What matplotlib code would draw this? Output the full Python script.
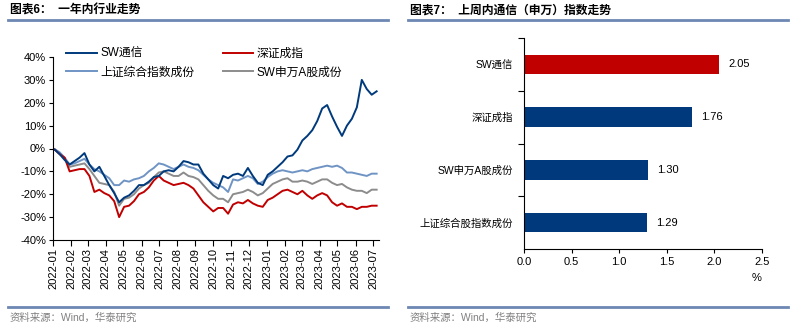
import numpy as np
import pandas as pd
import matplotlib
matplotlib.use("Agg")
import matplotlib.pyplot as plt
import matplotlib.dates as mdates
from matplotlib.lines import Line2D
from matplotlib.ticker import FuncFormatter, FixedLocator

plt.rcParams['font.family'] = ['Liberation Sans', 'Noto Sans CJK SC']
plt.rcParams['axes.unicode_minus'] = False

# ---- data: one-year trend (% change, roughly weekly samples) ----
dates = pd.date_range('2022-01-04', '2023-07-07', periods=66)

sw_tongxin = [-0.5, -2.5, -5, -7, -5.5, -4, -2, -7, -10, -8, -12, -16, -19.5, -23.5,
              -21.5, -20.5, -18.5, -16, -16, -14.5, -12.5, -12, -10, -9.5, -10, -8,
              -5.5, -6, -7, -7, -11, -13.5, -16, -17.5, -12, -13, -11.5, -11, -12,
              -8.5, -12, -15, -16, -11.5, -10, -8, -6, -3.5, -3, -0.5, 3.5, 5.5, 8,
              12, 17.5, 19, 14, 9.5, 5.5, 10, 13, 18, 30, 26, 23.5, 25]
shenzheng = [-0.5, -2.5, -4, -10, -9.5, -9, -9, -12, -19, -18, -19.5, -20.5, -23, -30,
             -25.5, -25, -23, -20, -19, -17, -14, -12, -14, -15, -16, -15.5, -15, -16,
             -17.5, -20.5, -23.5, -25.5, -27.5, -26, -26, -28.5, -24.5, -23.5, -24,
             -22.5, -24, -25, -25.5, -22.5, -21.5, -20, -18.5, -18, -19, -20, -18.5,
             -20.5, -22, -20.5, -19.5, -20.5, -23.5, -25, -24, -25.5, -25.5, -26.5,
             -25.5, -25.5, -25, -25]
shangzheng = [-0.3, -1.7, -4, -7, -6.5, -5.5, -4.5, -7, -9, -10, -11.5, -13, -16, -16,
              -14, -14.5, -13.5, -13, -12, -10, -8.5, -6.5, -7, -8, -9, -8, -7, -8,
              -8.5, -9.5, -11.5, -13.5, -15, -16, -17, -19, -13.5, -14, -13, -12, -13,
              -15.5, -14.5, -12.5, -11, -10, -9.5, -10, -10.5, -10, -9.5, -10, -9,
              -8.5, -8, -7.5, -8, -7.5, -8.5, -10.5, -10.5, -11, -11.5, -12, -11, -11]
sw_ashare = [-0.5, -2, -4.5, -8, -7.5, -7, -6.5, -9, -12, -15, -15.5, -16, -19, -25,
             -22, -21.5, -20, -17.5, -16, -15, -12.5, -10.5, -10, -11, -12, -12, -10.5,
             -12, -12.5, -13.5, -16, -18.5, -20.5, -22, -22, -23.5, -20, -19.5, -19,
             -18, -19, -20.5, -19.5, -17.5, -15.5, -14.5, -13.5, -13, -14.5, -14.5,
             -14, -14.5, -15.5, -14.5, -13.5, -13.5, -15, -16, -15.5, -17, -18, -18.5,
             -18.5, -19.5, -18, -18]

# ---- data: last week index change (%) ----
bar_labels = ['SW通信', '深证成指', 'SW申万A股成份', '上证综合股指数成份']
bar_values = [2.05, 1.76, 1.30, 1.29]

NAVY = '#003A7C'
RED = '#C00000'
LIGHT = '#6F94C4'
GRAY = '#8C8C8C'
RULE = '#6D88B3'

fig = plt.figure(figsize=(7.99, 3.32), dpi=100)

# headers / footers
fig.text(10 / 799, 1 - 11 / 332, '图表6：  一年内行业走势', fontsize=8.5,
         fontweight='bold', va='center', ha='left')
fig.text(410 / 799, 1 - 11 / 332, '图表7：  上周内通信（申万）指数走势', fontsize=8.5,
         fontweight='bold', va='center', ha='left')
for x0, x1 in [(8, 388), (408, 788)]:
    for yy in (20, 307):
        fig.add_artist(Line2D([x0 / 799, x1 / 799], [1 - yy / 332, 1 - yy / 332],
                              color=RULE, lw=2.0, transform=fig.transFigure))
fig.text(10 / 799, 1 - 318 / 332, '资料来源：Wind，华泰研究', fontsize=7.5,
         color='#808080', va='center')
fig.text(410 / 799, 1 - 318 / 332, '资料来源：Wind，华泰研究', fontsize=7.5,
         color='#808080', va='center')

# ---- left: line chart ----
ax = fig.add_axes([53 / 799, 1 - 240 / 332, (379 - 53) / 799, (240 - 57) / 332])
l4, = ax.plot(dates, sw_ashare, color=GRAY, lw=1.4, label='SW申万A股成份')
l3, = ax.plot(dates, shangzheng, color=LIGHT, lw=1.4, label='上证综合指数成份')
l2, = ax.plot(dates, shenzheng, color=RED, lw=1.4, label='深证成指')
l1, = ax.plot(dates, sw_tongxin, color=NAVY, lw=1.4, label='SW通信')

ax.set_ylim(-40, 40)
ax.set_yticks(np.arange(-40, 41, 10))
ax.yaxis.set_major_formatter(FuncFormatter(lambda v, p: f'{v:.0f}%'))
ax.set_xlim(pd.Timestamp('2022-01-01'), pd.Timestamp('2023-07-11'))
ax.xaxis.set_major_locator(mdates.MonthLocator())
ax.xaxis.set_major_formatter(mdates.DateFormatter('%Y-%m'))
ax.tick_params(axis='x', rotation=90, labelsize=8, length=4, pad=2)
ax.tick_params(axis='y', labelsize=8, length=3, pad=2)
for s in ('top', 'right'):
    ax.spines[s].set_visible(False)

ax.legend([l1, l3, l2, l4], [l.get_label() for l in (l1, l3, l2, l4)], ncol=2,
          loc='upper left', bbox_to_anchor=(66 / 799, 1 - 48 / 332),
          bbox_transform=fig.transFigure, frameon=False, fontsize=8.5,
          handlelength=2.6, columnspacing=2.4, labelspacing=0.55, handletextpad=0.3,
          borderaxespad=0, borderpad=0)

# ---- right: bar chart ----
bx = fig.add_axes([524 / 799, 1 - 249 / 332, (762 - 524) / 799, (249 - 38) / 332])
ypos = np.arange(len(bar_labels))
colors = [RED] + [NAVY] * (len(bar_labels) - 1)
bars = bx.barh(ypos, bar_values, height=0.37, color=colors)
for b, v in zip(bars, bar_values):
    bx.annotate(f'{v:.2f}', (b.get_width(), b.get_y() + b.get_height() / 2),
                xytext=(7, 0), textcoords='offset points', va='center', ha='left',
                fontsize=8)
bx.set_ylim(3.5, -0.5)
bx.set_xlim(0, 2.5)
bx.set_xticks(np.arange(0, 2.51, 0.5))
bx.xaxis.set_major_formatter(FuncFormatter(lambda v, p: f'{v:.1f}'))
bx.yaxis.set_major_locator(FixedLocator([-0.5, 0.5, 1.5, 2.5]))
bx.yaxis.set_major_formatter(FuncFormatter(lambda v, p: ''))
bx.yaxis.set_minor_locator(FixedLocator(ypos))
bx.set_yticklabels(bar_labels, minor=True)
bx.tick_params(axis='y', which='minor', length=0, labelsize=7.5, pad=8)
bx.tick_params(axis='y', which='major', length=4)
bx.tick_params(axis='x', labelsize=8, length=3, pad=3)
bx.set_xlabel('%', fontsize=8, loc='right', labelpad=4)
for s in ('top', 'right'):
    bx.spines[s].set_visible(False)

fig.savefig('out.png', dpi=100)
